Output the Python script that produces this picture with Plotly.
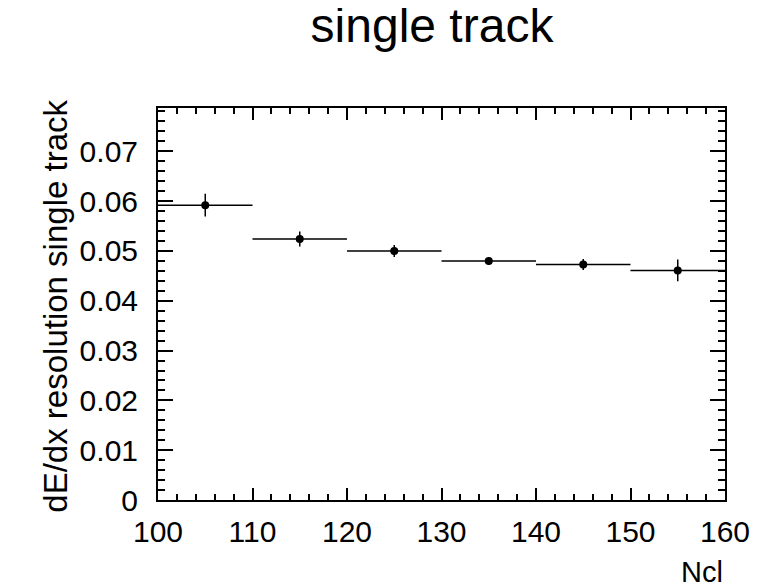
import plotly.graph_objects as go

# Data
ncl_centers = [105, 115, 125, 135, 145, 155]
bin_half_width = [5, 5, 5, 5, 5, 5]
resolution = [0.0592, 0.0524, 0.0500, 0.0480, 0.0473, 0.0461]
resolution_err = [0.0023, 0.0015, 0.0012, 0.0008, 0.0011, 0.0022]

y_tick_values = [0, 0.01, 0.02, 0.03, 0.04, 0.05, 0.06, 0.07]
y_tick_labels = ["0", "0.01", "0.02", "0.03", "0.04", "0.05", "0.06", "0.07"]
x_tick_values = [100, 110, 120, 130, 140, 150, 160]
x_tick_labels = ["100", "110", "120", "130", "140", "150", "160"]

FONT = "Liberation Sans, Arial, Helvetica, sans-serif"

fig = go.Figure()
fig.add_trace(go.Scatter(
    x=ncl_centers, y=resolution, mode="markers",
    marker=dict(color="black", size=8, symbol="circle"),
    error_x=dict(type="data", array=bin_half_width, width=0, thickness=1.5, color="black"),
    error_y=dict(type="data", array=resolution_err, width=0, thickness=1.5, color="black"),
    showlegend=False,
))

# page body has an 8px margin, so the figure is offset by 8px
OFF = 8
W, H = 766 - OFF, 584 - OFF
L, R, T, B = 158 - OFF, 41, 108 - OFF, 84
PW, PH = W - L - R, H - T - B

fig.update_layout(
    width=W, height=H,
    margin=dict(l=L, r=R, t=T, b=B, pad=0, autoexpand=False),
    paper_bgcolor="white", plot_bgcolor="white",
    font=dict(family=FONT, color="black"),
    title=dict(text="single track", x=(432 - OFF) / W, xanchor="center",
               y=1.0, yanchor="top", yref="container",
               font=dict(size=48, family=FONT, color="black")),
    xaxis=dict(
        range=[100, 160], tickvals=x_tick_values, ticktext=x_tick_labels,
        showgrid=False, zeroline=False, automargin=False,
        showline=True, linecolor="black", linewidth=2, mirror="allticks",
        ticks="inside", ticklen=12, tickwidth=2, tickcolor="black",
        tickfont=dict(size=30, family=FONT, color="black"),
        ticklabelstandoff=4,
        minor=dict(ticks="inside", ticklen=6, tickwidth=2, tickcolor="black", dtick=2, showgrid=False),
    ),
    yaxis=dict(
        range=[0, 0.0787], tickvals=y_tick_values, ticktext=y_tick_labels,
        showgrid=False, zeroline=False, automargin=False,
        showline=True, linecolor="black", linewidth=2, mirror="allticks",
        ticks="inside", ticklen=15, tickwidth=2, tickcolor="black",
        tickfont=dict(size=30, family=FONT, color="black"),
        ticklabelstandoff=12,
        minor=dict(ticks="inside", ticklen=7, tickwidth=2, tickcolor="black",
                   tick0=0, dtick=0.002, showgrid=False),
    ),
    annotations=[
        dict(text="dE/dx resolution single track", textangle=-90,
             xref="paper", yref="paper", x=(56 - 158) / PW, y=1.025,
             xanchor="center", yanchor="top", showarrow=False,
             font=dict(size=33, family=FONT, color="black")),
        dict(text="Ncl", xref="paper", yref="paper",
             x=1.0, y=-(572 - 500) / PH,
             xanchor="right", yanchor="middle", showarrow=False,
             font=dict(size=29, family=FONT, color="black")),
    ],
)

fig.write_html("out.html")
